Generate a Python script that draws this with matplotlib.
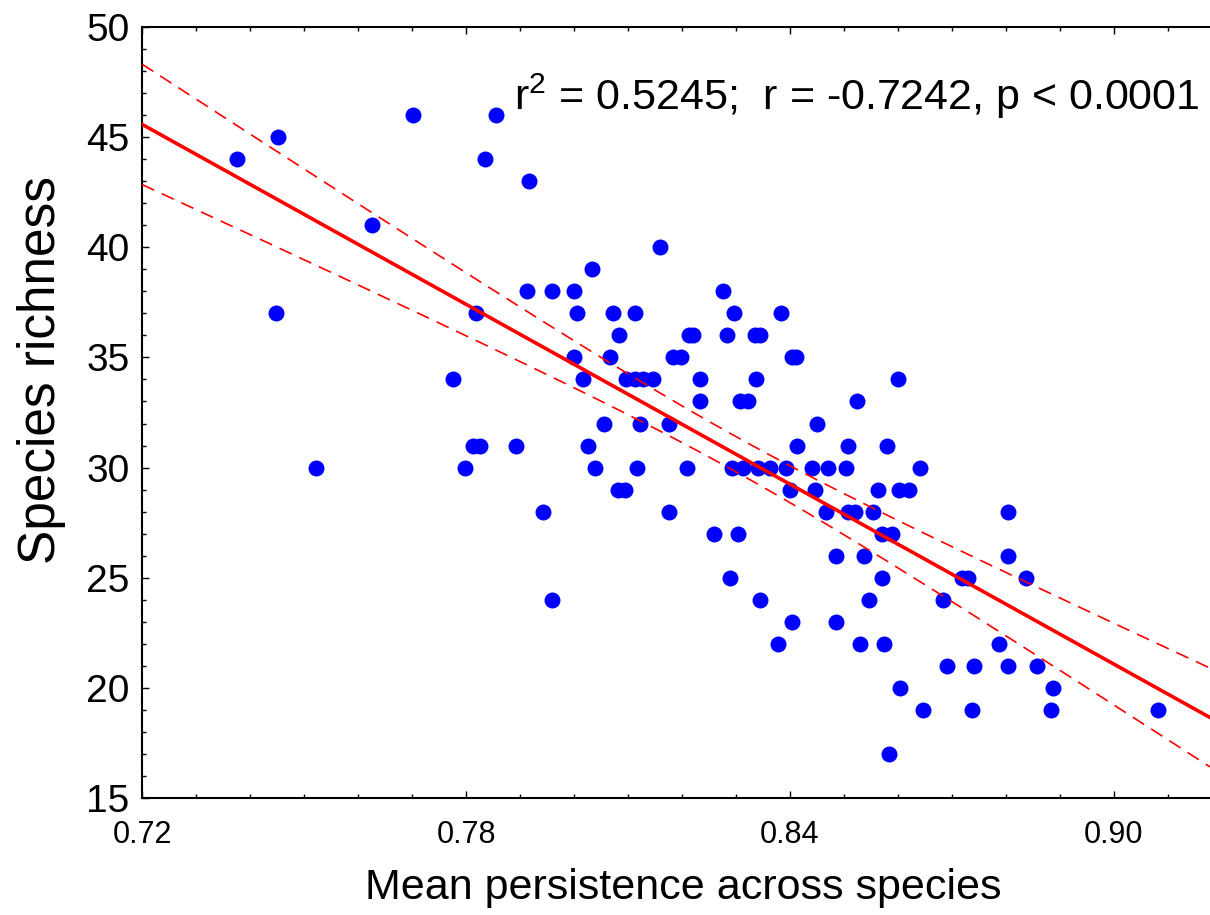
import numpy as np
import matplotlib
matplotlib.use("Agg")
import matplotlib.pyplot as plt

# Species richness (integer) against mean persistence

richness = [46, 46, 45, 44, 44, 43, 41, 40, 39,
            38, 38, 38, 38,
            37, 37, 37, 37, 37, 37, 37,
            36, 36, 36, 36, 36, 36,
            35, 35, 35, 35, 35, 35,
            34, 34, 34, 34, 34, 34, 34, 34, 34,
            33, 33, 33, 33,
            32, 32, 32, 32,
            31, 31, 31, 31, 31, 31, 31,
            30, 30, 30, 30, 30, 30, 30, 30, 30, 30, 30, 30, 30, 30,
            29, 29, 29, 29, 29, 29, 29,
            28, 28, 28, 28, 28, 28, 28,
            27, 27, 27, 27,
            26, 26, 26,
            25, 25, 25, 25, 25,
            24, 24, 24, 24,
            23, 23,
            22, 22, 22, 22,
            21, 21, 21, 21,
            20, 20,
            19, 19, 19, 19,
            17]

persistence = [0.7702, 0.7856, 0.7452, 0.7376, 0.7835, 0.7917, 0.7626, 0.8159, 0.8033,
               0.7913, 0.7959, 0.8000, 0.8276,
               0.7448, 0.7819, 0.8006, 0.8072, 0.8113, 0.8296, 0.8383,
               0.8083, 0.8213, 0.8220, 0.8283, 0.8335, 0.8345,
               0.8000, 0.8067, 0.8183, 0.8198, 0.8404, 0.8411,
               0.7776, 0.8017, 0.8096, 0.8113, 0.8128, 0.8146, 0.8233, 0.8337, 0.8600,
               0.8233, 0.8307, 0.8322, 0.8524,
               0.8056, 0.8122, 0.8176, 0.8450,
               0.7813, 0.7826, 0.7893, 0.8026, 0.8413, 0.8507, 0.8580,
               0.7522, 0.7798, 0.8039, 0.8117, 0.8209, 0.8293, 0.8313, 0.8341, 0.8363,
               0.8393, 0.8441, 0.8470, 0.8504, 0.8641,
               0.8081, 0.8094, 0.8400, 0.8446, 0.8563, 0.8602, 0.8620,
               0.7943, 0.8176, 0.8467, 0.8507, 0.8520, 0.8554, 0.8804,
               0.8259, 0.8304, 0.8570, 0.8589,
               0.8485, 0.8537, 0.8804,
               0.8289, 0.8570, 0.8719, 0.8730, 0.8837,
               0.7959, 0.8344, 0.8546, 0.8683,
               0.8404, 0.8485,
               0.8378, 0.8530, 0.8574, 0.8787,
               0.8691, 0.8741, 0.8804, 0.8857,
               0.8604, 0.8887,
               0.8646, 0.8737, 0.8883, 0.9081,
               0.8583]

x_ticks = [0.72, 0.78, 0.84, 0.90]
x_tick_labels = ["0.72", "0.78", "0.84", "0.90"]
y_ticks = [15, 20, 25, 30, 35, 40, 45, 50]
stats_label = "r$^2$ = 0.5245;  r = -0.7242, p < 0.0001"

plt.rcParams["font.family"] = ["Liberation Sans", "DejaVu Sans"]
plt.rcParams["mathtext.fontset"] = "custom"
plt.rcParams["mathtext.rm"] = "Liberation Sans"

x = np.array(persistence)
y = np.array(richness)

# Linear fit with 95% confidence band for the mean
slope, intercept = np.polyfit(x, y, 1)
n = len(x)
resid = y - (slope * x + intercept)
s = np.sqrt(np.sum(resid ** 2) / (n - 2))
sxx = np.sum((x - x.mean()) ** 2)
t_val = 1.981

xlim = (0.72, 0.72 + 1068 / 5400)
xs = np.linspace(xlim[0], xlim[1], 200)
fit = slope * xs + intercept
half = t_val * s * np.sqrt(1 / n + (xs - x.mean()) ** 2 / sxx)

fig = plt.figure(figsize=(12.1, 9.15), dpi=100)
ax = fig.add_axes([142 / 1210, 117 / 915, 1068 / 1210, 771 / 915])

ax.plot(xs, fit, color="#ff0000", linewidth=2.6, zorder=3)
ax.plot(xs, fit + half, color="#ff0000", linewidth=1.2, linestyle=(0, (8, 5)), zorder=3)
ax.plot(xs, fit - half, color="#ff0000", linewidth=1.2, linestyle=(0, (8, 5)), zorder=3)
ax.plot(x, y, "o", color="#0000ff", markersize=11.5, markeredgewidth=0, zorder=2)

ax.set_xlim(*xlim)
ax.set_ylim(15, 50)
ax.set_xticks(x_ticks)
ax.set_xticklabels(x_tick_labels, fontsize=22)
ax.set_xticks(np.arange(0.72, 0.9181, 0.01), minor=True)
ax.set_yticks(y_ticks)
ax.set_yticklabels([str(v) for v in y_ticks], fontsize=28)
ax.set_yticks(np.arange(15, 50.1, 1), minor=True)

ax.tick_params(which="both", direction="in", top=True, right=False, width=1)
ax.tick_params(which="major", length=5)
ax.tick_params(which="minor", length=3)
ax.tick_params(axis="x", pad=16)
ax.tick_params(axis="y", pad=9)

for side in ["left", "bottom", "top"]:
    ax.spines[side].set_linewidth(1.5)
ax.spines["right"].set_visible(False)

ax.text(0.9906, 0.892, stats_label, transform=ax.transAxes, ha="right",
        va="baseline", fontsize=31)

fig.text(683 / 1210, 1 - 888 / 915, "Mean persistence across species",
         ha="center", va="center", fontsize=31)
fig.text(42 / 1210, 1 - 370 / 915, "Species richness", rotation=90,
         ha="center", va="center", fontsize=37)

fig.savefig("out.png", dpi=100)
